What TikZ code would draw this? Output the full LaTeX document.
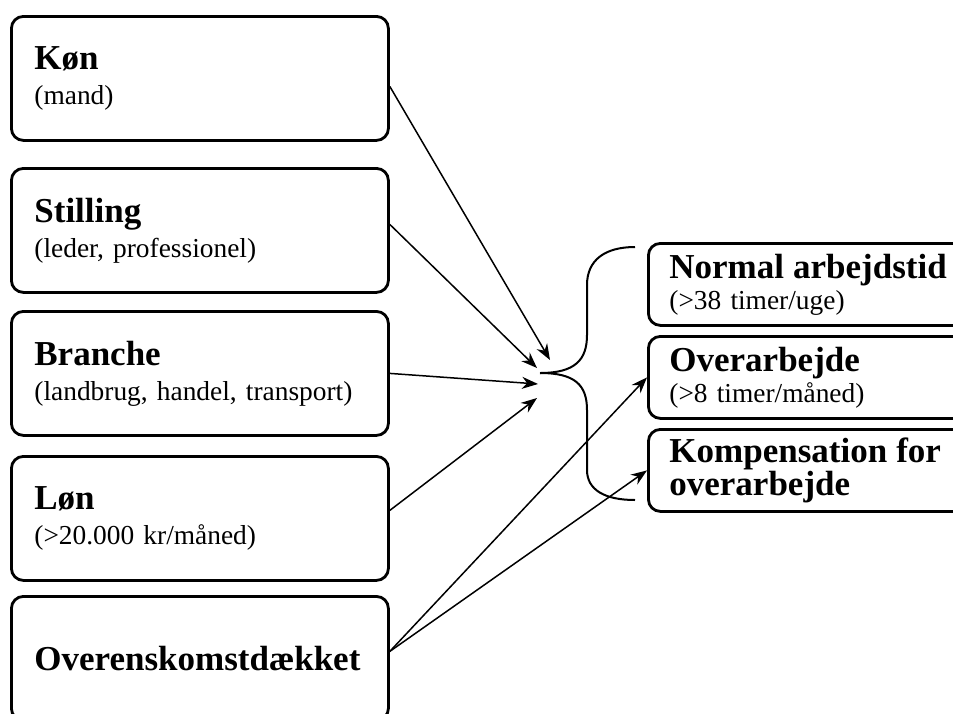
\documentclass[tikz,border=0pt]{standalone}
\usepackage{fontspec}
\setmainfont{Liberation Serif}
\usetikzlibrary{arrows.meta}
\newcommand{\overskrift}[1]{{\fontsize{17.5}{17}\selectfont\bfseries #1}}
\begin{document}
\begin{tikzpicture}[x=0.5pt, y=-0.5pt,
        venstre/.style={draw, line width=1.4pt, rounded corners=6pt, anchor=north west,
            minimum height=62pt, inner xsep=11.5pt, text width=165.5pt, align=left,
            font=\fontsize{13.7}{17.5}\selectfont},
        hoejre/.style={draw, line width=1.4pt, rounded corners=6pt, anchor=north west,
            minimum height=41pt, inner xsep=10.5pt, text width=139pt, align=left,
            font=\fontsize{13.7}{15.5}\selectfont},
        pil/.style={line width=0.75pt, -{Stealth[length=8pt, width=6pt]}}]
            \useasboundingbox (0, 0) rectangle (953, 713);

            \node[venstre] (kon) at (10, 15) {\overskrift{Køn}\\(mand)};
            \node[venstre] (stilling) at (10, 167) {\overskrift{Stilling}\\(leder, professionel)};
            \node[venstre] (branche) at (10, 310) {\overskrift{Branche}\\(landbrug, handel, transport)};
            \node[venstre] (lon) at (10, 455) {\overskrift{Løn}\\(>20.000 kr/måned)};
            \node[venstre] (overens) at (10, 595) {\overskrift{Overenskomstdækket}};

            \node[hoejre] (normal) at (647, 242) {\overskrift{Normal arbejdstid}\\(>38 timer/uge)};
            \node[hoejre] (overarb) at (647, 335) {\overskrift{Overarbejde}\\(>8 timer/måned)};
            \node[hoejre] (komp) at (647, 428) {\overskrift{Kompensation for\\overarbejde}};

            \coordinate (samle) at (540, 373);
            \coordinate (pilA) at (550, 360);
            \coordinate (pilB) at (537, 368);
            \coordinate (pilC) at (538, 384);
            \coordinate (pilD) at (537, 398);
            \coordinate (top) at (635, 247);
            \coordinate (bund) at (635, 500);

            \draw[pil] ([yshift=-4pt]kon.east) -- (pilA);
            \draw[pil] ([yshift=3pt]stilling.east) -- (pilB);
            \draw[pil] (branche.east) -- (pilC);
            \draw[pil] ([yshift=4pt]lon.east) -- (pilD);
            \draw[pil] ([yshift=3.5pt]overens.east) -- (overarb.west);
            \draw[pil] ([yshift=3.5pt]overens.east) -- (komp.west);

            \draw[line width=1pt] (samle) .. controls (575, 373) and (587, 360) .. (587, 335)
                -- (587, 285) .. controls (587, 260) and (605, 247) .. (top);
            \draw[line width=1pt] (samle) .. controls (575, 373) and (587, 385) .. (587, 410)
                -- (587, 470) .. controls (587, 490) and (605, 500) .. (bund);
        \end{tikzpicture}
\end{document}
